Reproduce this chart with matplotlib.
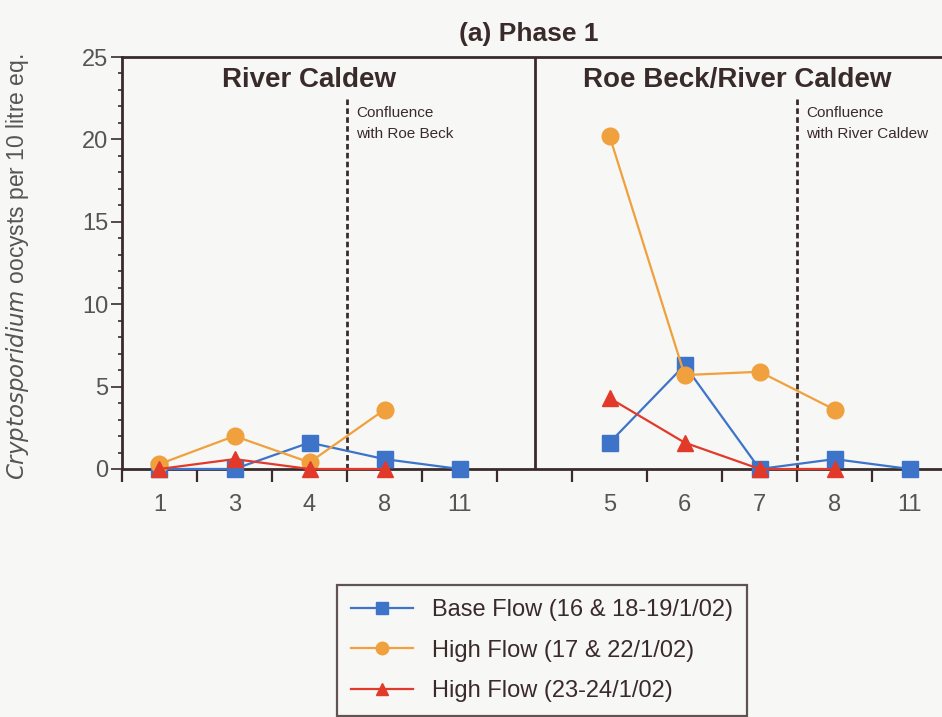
import matplotlib
matplotlib.use("Agg")
import matplotlib.pyplot as plt
from matplotlib.ticker import MultipleLocator, FixedLocator

plt.rcParams["font.family"] = ["Liberation Sans", "DejaVu Sans"]

# sampling sites, left panel (River Caldew) then right panel (Roe Beck/River Caldew)
left_sites = ["1", "3", "4", "8", "11"]
right_sites = ["5", "6", "7", "8", "11"]

# oocysts per 10 litre eq. (None = not sampled)
base_left = [0, 0, 1.6, 0.6, 0]
high1_left = [0.3, 2.0, 0.4, 3.6, None]
high2_left = [0, 0.6, 0, 0, None]

base_right = [1.6, 6.3, 0, 0.6, 0]
high1_right = [20.2, 5.7, 5.9, 3.6, None]
high2_right = [4.3, 1.6, 0, 0, None]

series = [
    ("Base Flow (16 & 18-19/1/02)", base_left, base_right, "#3d74c9", "s"),
    ("High Flow (17 & 22/1/02)", high1_left, high1_right, "#f0a03c", "o"),
    ("High Flow (23-24/1/02)", high2_left, high2_right, "#e23a2a", "^"),
]

dark = "#3a2b2b"
grey = "#555555"

fig = plt.figure(figsize=(9.42, 7.17), dpi=100)
fig.patch.set_facecolor("#f7f7f5")
ax = fig.add_axes([0.1295, 0.3459, 0.876, 0.5746])
ax.set_facecolor("#f7f7f5")

left_x = list(range(len(left_sites)))
right_x = [len(left_sites) + 1 + i for i in range(len(right_sites))]

handles = []
for label, lv, rv, col, mk in series:
    for xs, vals in ((left_x, lv), (right_x, rv)):
        pts = [(x, v) for x, v in zip(xs, vals) if v is not None]
        h, = ax.plot([p[0] for p in pts], [p[1] for p in pts], color=col, marker=mk,
                     markersize=12 if mk != "^" else 11, linewidth=1.6,
                     clip_on=False, zorder=3, label=label)
    handles.append(h)

ax.set_xlim(-0.5, 10.5)
ax.set_ylim(0, 25)

# panel divider and confluence markers
ax.axvline(5, color=dark, linewidth=2, zorder=2)
ax.plot([2.5, 2.5], [0, 22.5], color=dark, linestyle=(0, (2, 1.2)), linewidth=2, zorder=2)
ax.plot([8.5, 8.5], [0, 22.5], color=dark, linestyle=(0, (2, 1.2)), linewidth=2, zorder=2)
ax.text(2.62, 22.0, "Confluence\nwith Roe Beck", fontsize=11, color=dark, va="top",
        linespacing=1.6)
ax.text(8.62, 22.0, "Confluence\nwith River Caldew", fontsize=11, color=dark, va="top",
        linespacing=1.6)

ax.text(2.0, 23.6, "River Caldew", fontsize=20, fontweight="bold", color=dark,
        ha="center", va="center")
ax.text(7.7, 23.6, "Roe Beck/River Caldew", fontsize=20, fontweight="bold", color=dark,
        ha="center", va="center")
fig.text(0.561, 0.953, "(a) Phase 1", fontsize=19, fontweight="bold", color=dark,
         ha="center", va="center")

# axes styling
for side in ("left", "top", "bottom"):
    ax.spines[side].set_color(dark)
    ax.spines[side].set_linewidth(2)
ax.spines["right"].set_visible(False)

ax.set_xticks(left_x + right_x)
ax.set_xticklabels(left_sites + right_sites)
ax.xaxis.set_minor_locator(FixedLocator([-0.5, 0.5, 1.5, 2.5, 3.5, 4.5,
                                         5.5, 6.5, 7.5, 8.5, 9.5]))
ax.tick_params(axis="x", which="major", length=0, pad=18, labelsize=17, labelcolor=grey)
ax.tick_params(axis="x", which="minor", length=9, width=1.6, color=dark, direction="out")

ax.yaxis.set_major_locator(MultipleLocator(5))
ax.yaxis.set_minor_locator(MultipleLocator(1))
ax.tick_params(axis="y", which="major", length=8, width=1.2, color=dark, labelsize=17,
               labelcolor=grey, pad=2)
ax.tick_params(axis="y", which="minor", length=3, width=1.2, color=dark)

ax.set_ylabel(r"$\it{Cryptosporidium}$ oocysts per 10 litre eq.", fontsize=16.5,
              color=grey)
ax.yaxis.set_label_coords(-0.11, 0.49)

leg = fig.legend(handles=handles, loc="upper left", bbox_to_anchor=(0.358, 0.184),
                 fontsize=17, frameon=True, fancybox=False, borderpad=0.6,
                 handlelength=2.6, labelspacing=0.78, handletextpad=0.8,
                 labelcolor=dark, borderaxespad=0)
leg.get_frame().set_edgecolor(dark)
leg.get_frame().set_linewidth(1.6)
leg.get_frame().set_facecolor("#f7f7f5")
for lh in leg.legend_handles:
    lh.set_markersize(9)

fig.savefig("out.png", dpi=100, facecolor=fig.get_facecolor())
